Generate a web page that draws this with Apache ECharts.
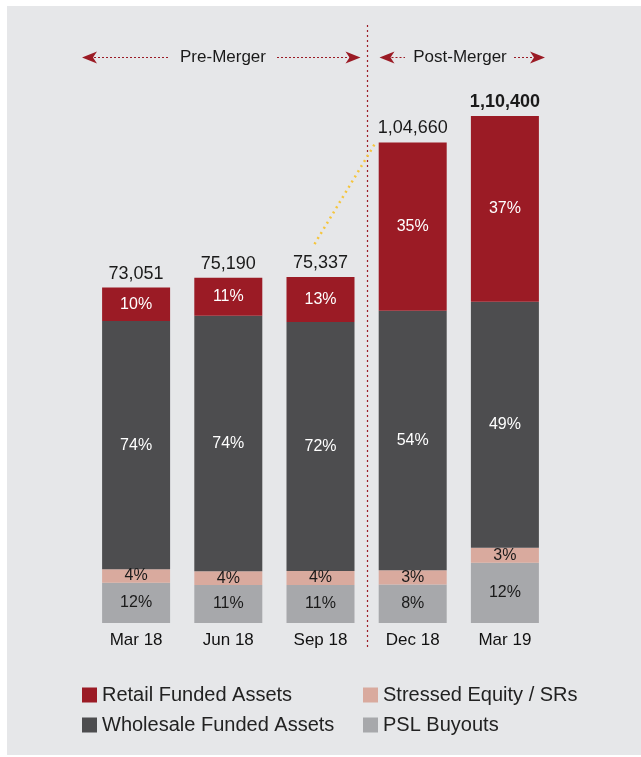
<!DOCTYPE html>
<html>
<head>
<meta charset="utf-8">
<script src="https://cdn.jsdelivr.net/npm/echarts@6/dist/echarts.min.js"></script>
<style>
  html, body { margin: 0; padding: 0; background: #fff; }
  #panel { position: absolute; left: 7px; top: 6px; width: 634px; height: 749px; background: #e6e7e9; }
  #chart { position: absolute; left: 0; top: 0; width: 641px; height: 757px; }
</style>
</head>
<body>
<div id="panel"></div>
<div id="chart"></div>
<script>
const categories = ['Mar 18', 'Jun 18', 'Sep 18', 'Dec 18', 'Mar 19'];
const totals = [73051, 75190, 75337, 104660, 110400];
const totalLabels = ['73,051', '75,190', '75,337', '1,04,660', '1,10,400'];
const pslPct = [12, 11, 11, 8, 12];
const stressedPct = [4, 4, 4, 3, 3];
const wholesalePct = [74, 74, 72, 54, 49];
const retailPct = [10, 11, 13, 35, 37];

const FONT = "'Liberation Sans', Arial, sans-serif";
const RED = '#9b1b25';

// split each total by its shares (shares of Mar 19 add up to 101)
function segment(pct) {
  return pct.map((p, i) => {
    let sum = pslPct[i] + stressedPct[i] + wholesalePct[i] + retailPct[i];
    return totals[i] * p / sum;
  });
}

function barSeries(name, pct, color, textColor) {
  return {
    name: name,
    type: 'bar',
    stack: 'total',
    barWidth: 68,
    itemStyle: { color: color },
    label: {
      show: true,
      position: 'inside',
      color: textColor,
      fontSize: 16,
      fontFamily: FONT,
      formatter: p => pct[p.dataIndex] + '%'
    },
    data: segment(pct)
  };
}

const chart = echarts.init(document.getElementById('chart'));

const legendBase = {
  orient: 'vertical', top: 685, itemGap: 10, padding: 0,
  itemWidth: 15, itemHeight: 15, icon: 'rect',
  textStyle: { fontSize: 20, color: '#222', fontFamily: FONT }
};

const option = {
  animation: false,
  backgroundColor: 'transparent',
  grid: { left: 90, right: 90, top: 72, bottom: 134 },
  legend: [
    Object.assign({ data: ['Retail Funded Assets', 'Wholesale Funded Assets'], left: 82 }, legendBase),
    Object.assign({ data: ['Stressed Equity / SRs', 'PSL Buyouts'], left: 363 }, legendBase)
  ],
  xAxis: {
    type: 'category',
    data: categories,
    axisLine: { show: false },
    axisTick: { show: false },
    axisLabel: { fontSize: 17, color: '#111', fontFamily: FONT, margin: 9 }
  },
  yAxis: {
    type: 'value',
    min: 0,
    max: 120000,
    show: false,
    splitLine: { show: false }
  },
  series: [
    barSeries('PSL Buyouts', pslPct, '#a7a8ab', '#1a1a1a'),
    barSeries('Stressed Equity / SRs', stressedPct, '#d9aa9e', '#1a1a1a'),
    barSeries('Wholesale Funded Assets', wholesalePct, '#4d4d4f', '#fff'),
    barSeries('Retail Funded Assets', retailPct, RED, '#fff'),
    {
      name: 'Total',
      type: 'bar',
      stack: 'total',
      barWidth: 68,
      itemStyle: { color: 'transparent' },
      label: {
        show: true,
        position: 'top',
        distance: 5,
        fontSize: 18,
        color: '#1a1a1a',
        fontFamily: FONT,
        formatter: p => totalLabels[p.dataIndex]
      },
      data: totals.map((t, i) => ({
        value: 0,
        label: i === totals.length - 1 ? { fontWeight: 'bold' } : {}
      }))
    }
  ]
};

chart.setOption(option);

// annotations: merger divider, section arrows, link between Sep 18 and Dec 18
const pt = (i, v) => chart.convertToPixel({ xAxisIndex: 0, yAxisIndex: 0 }, [i, v]);
const sep = pt(2, totals[2]);
const dec = pt(3, totals[3]);
const divX = Math.round((sep[0] + dec[0]) / 2) + 0.5;
const ay = 57.5;

function arrowHead(x, dir) {
  // dir = -1 points left, 1 points right
  return {
    type: 'polygon',
    shape: { points: [[x, ay], [x - dir * 15, ay - 6], [x - dir * 11, ay], [x - dir * 15, ay + 6]] },
    style: { fill: RED }
  };
}
function dotted(x1, x2) {
  return {
    type: 'line',
    shape: { x1: x1, y1: ay, x2: x2, y2: ay },
    style: { stroke: RED, lineWidth: 1.2, lineDash: [2, 2] }
  };
}
function label(text, x) {
  return {
    type: 'text', x: x, y: ay,
    style: { text: text, fontSize: 17, fontFamily: FONT, fill: '#1a1a1a', align: 'center', verticalAlign: 'middle' }
  };
}

chart.setOption({
  graphic: [
    {
      type: 'line',
      shape: { x1: divX, y1: 25, x2: divX, y2: 648 },
      style: { stroke: RED, lineWidth: 1.2, lineDash: [2, 3] }
    },
    arrowHead(82, -1), dotted(94, 170), label('Pre-Merger', 223), dotted(277, divX - 18), arrowHead(divX - 7, 1),
    arrowHead(divX + 12, -1), dotted(divX + 24, 405), label('Post-Merger', 460), dotted(514, 532), arrowHead(545, 1),
    {
      type: 'line',
      shape: { x1: sep[0] - 6, y1: sep[1] - 33, x2: dec[0] - 37, y2: dec[1] },
      style: { stroke: '#f5c53d', lineWidth: 2.5, lineDash: [2, 4] }
    }
  ]
});
</script>
</body>
</html>
